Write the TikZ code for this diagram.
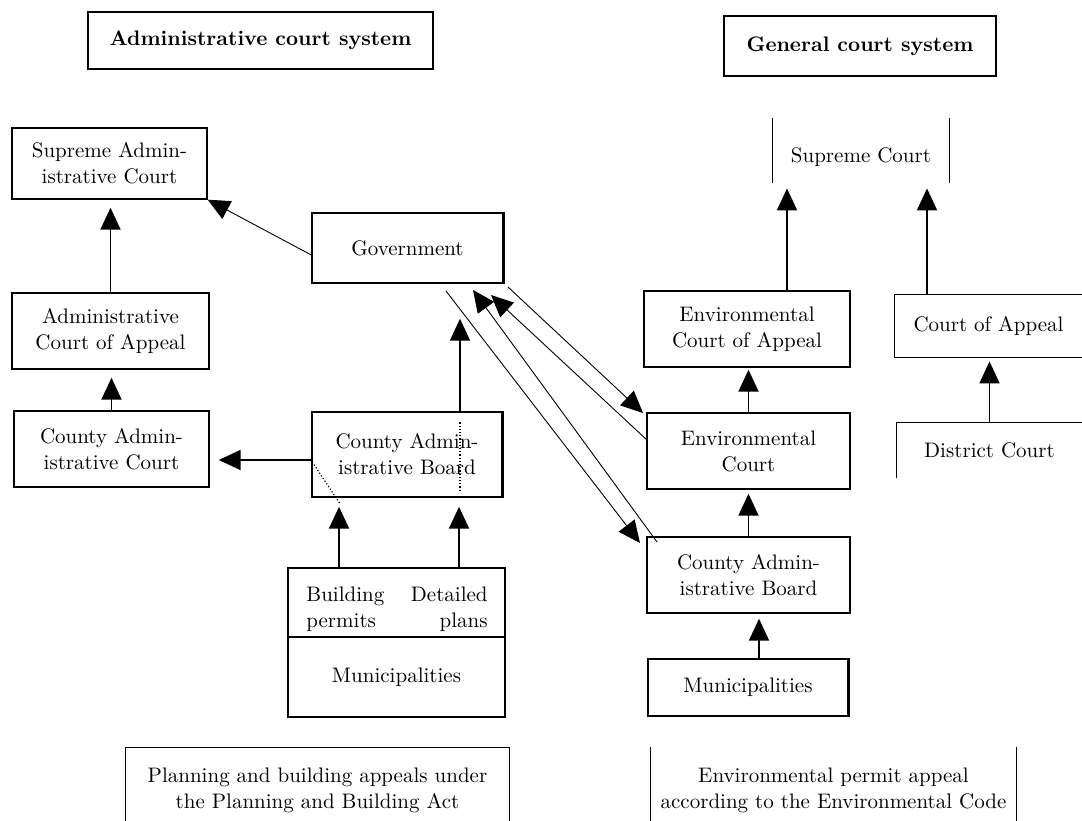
\documentclass[tikz,border=0pt]{standalone}
\usepackage{amssymb,amsmath}
\usepackage{tikz}
\usetikzlibrary{arrows.meta}

\begin{document}
\begin{tikzpicture}[x=0.5pt, y=-0.5pt,
    every node/.style={font=\fontsize{10.5}{13}\selectfont, align=center, inner sep=0pt},
    box/.style={draw=black, line width=0.7pt},
    edgebar/.style={line width=1.3pt},
    arr/.style={-{Triangle[length=11pt,width=10pt]}, line width=0.95pt},
    thinarr/.style={-{Triangle[length=11pt,width=10pt]}, line width=0.45pt},
    dots/.style={densely dotted, line width=0.6pt}]
    \useasboundingbox (0,0) rectangle (1082,820);

    % headings
    \node[box, minimum width=172.5pt, minimum height=28.5pt] at (260.5,40.5) (admtitle) {\bfseries Administrative court system};
    \node[box, minimum width=136pt, minimum height=30pt] at (860,46) (gentitle) {\bfseries General court system};

    % administrative side
    \node[box, minimum width=97.5pt, minimum height=35.5pt] at (109.5,163.5) (supadm) {Supreme Admin-\\istrative Court};
    \node[box, minimum width=98.5pt, minimum height=38pt] at (110.5,331) (admappeal) {Administrative\\Court of Appeal};
    \node[box, minimum width=97.5pt, minimum height=38pt] at (111.5,449) (cntcourt) {County Admin-\\istrative Court};
    \node[box, minimum width=95.5pt, minimum height=35pt] at (407.5,248) (gov) {Government};
    \node[box, minimum width=95pt, minimum height=42.5pt] at (407,454.5) (cntboard) {County Admin-\\istrative Board};
    \node[box, minimum width=108.5pt, minimum height=34.5pt] at (396.5,602.5) (muniplans) {};
    \node[box, minimum width=108.5pt, minimum height=40pt] at (396.5,677) (muni) {Municipalities};
    \node[anchor=west, align=left] at (306,609) (bpermits) {Building\\permits};
    \node[anchor=east, align=right] at (488,609) (dplans) {Detailed\\plans};
    \draw[edgebar] (gov.north east) -- (gov.south east);
    \draw[edgebar] (cntboard.north east) -- (cntboard.south east);

    % general side
    \node[minimum width=88pt, minimum height=26pt] at (861,157) (supcourt) {Supreme Court};
    \node[box, minimum width=103pt, minimum height=38pt] at (747,329) (envappeal) {Environmental\\Court of Appeal};
    \node[box, minimum width=101.5pt, minimum height=38pt] at (748.5,451) (envcourt) {Environmental\\Court};
    \node[box, minimum width=101.5pt, minimum height=38pt] at (748.5,575) (envboard) {County Admin-\\istrative Board};
    \node[box, minimum width=100pt, minimum height=28.5pt] at (748,687.5) (envmuni) {Municipalities};
    \node[minimum width=93.5pt, minimum height=31pt] at (988.5,326) (courtappeal) {Court of Appeal};
    \node[minimum width=92.5pt, minimum height=27.5pt] at (989.5,450.5) (district) {District Court};
    \draw[edgebar] (envmuni.north east) -- (envmuni.south east);
    \draw[box] ([yshift=6.5pt]supcourt.north west) -- (supcourt.south west);
    \draw[box] ([yshift=6.5pt]supcourt.north east) -- (supcourt.south east);
    \draw[box] (courtappeal.north east) -| (courtappeal.south west) -- (courtappeal.south east);
    \draw[box] (district.south west) |- (district.north east);

    % captions at the foot
    \node[minimum width=191.5pt, minimum height=42pt] at (317.5,790) (planning) {Planning and building appeals under\\the Planning and Building Act};
    \node[minimum width=182.5pt, minimum height=43pt] at (833.5,790) (envpermit) {Environmental permit appeal\\according to the Environmental Code};
    \draw[box] (planning.south west) |- (planning.north east) -- (planning.south east);
    \draw[box] (envpermit.north west) -- (envpermit.south west);
    \draw[box] (envpermit.north east) -- (envpermit.south east);

    % appeals, administrative side
    \draw[arr, shorten >=4pt] (admappeal.north) -- (admappeal.north |- supadm.south);
    \draw[arr, shorten >=4pt] (cntcourt.north) -- (cntcourt.north |- admappeal.south);
    \coordinate (cbw) at ([yshift=-2.75pt]cntboard.west);
    \draw[arr, shorten >=4.5pt] (cbw) -- (cbw -| cntcourt.east);
    \coordinate (cbn) at ([xshift=26.5pt]cntboard.north);
    \draw[arr, shorten >=17.5pt] (cbn) -- (cbn |- gov.south);
    \coordinate (bp) at ([xshift=-28.75pt]muniplans.north);
    \coordinate (dp) at ([xshift=31.25pt]muniplans.north);
    \draw[arr, shorten >=4.5pt] (bp) -- (bp |- cntboard.south);
    \draw[arr, shorten >=4.5pt] (dp) -- (dp |- cntboard.south);
    \draw[dots] ([yshift=-5.5pt]cbn) -- ([yshift=-40.5pt]cbn);
    \draw[dots] ([shift={(1,7.5)}]cntboard.west) -- ([shift={(-67,6)}]cntboard.south);
    \draw[thinarr] ([yshift=-3.5pt]gov.west) -- (supadm.south east);

    % appeals, general side
    \draw[arr, shorten >=1pt] (envcourt.north) -- (envcourt.north |- envappeal.south);
    \draw[arr, shorten >=2pt] (envboard.north) -- (envboard.north |- envcourt.south);
    \coordinate (em) at ([xshift=5.5pt]envmuni.north);
    \draw[arr, shorten >=2.5pt] (em) -- (em |- envboard.south);
    \coordinate (ea) at ([xshift=20pt]envappeal.north);
    \draw[arr, shorten >=2.5pt] (ea) -- (ea |- supcourt.south);
    \coordinate (ca) at ([xshift=-30.75pt]courtappeal.north);
    \draw[arr, shorten >=2.5pt] (ca) -- (ca |- supcourt.south);
    \draw[arr, shorten >=2pt] (district.north) -- (district.north |- courtappeal.south);

    % between Government and the environmental courts
    \coordinate (g1) at (446,291);
    \coordinate (b1) at (640,543);
    \coordinate (b2) at (657,542);
    \coordinate (g2) at (473,290);
    \coordinate (c3) at (647,440);
    \coordinate (g3) at (491,295);
    \coordinate (g4) at (508,287);
    \coordinate (c4) at (643,413);
    \draw[thinarr] (g1) -- (b1);
    \draw[thinarr] (b2) -- (g2);
    \draw[thinarr] (c3) -- (g3);
    \draw[thinarr] (g4) -- (c4);
\end{tikzpicture}
\end{document}
